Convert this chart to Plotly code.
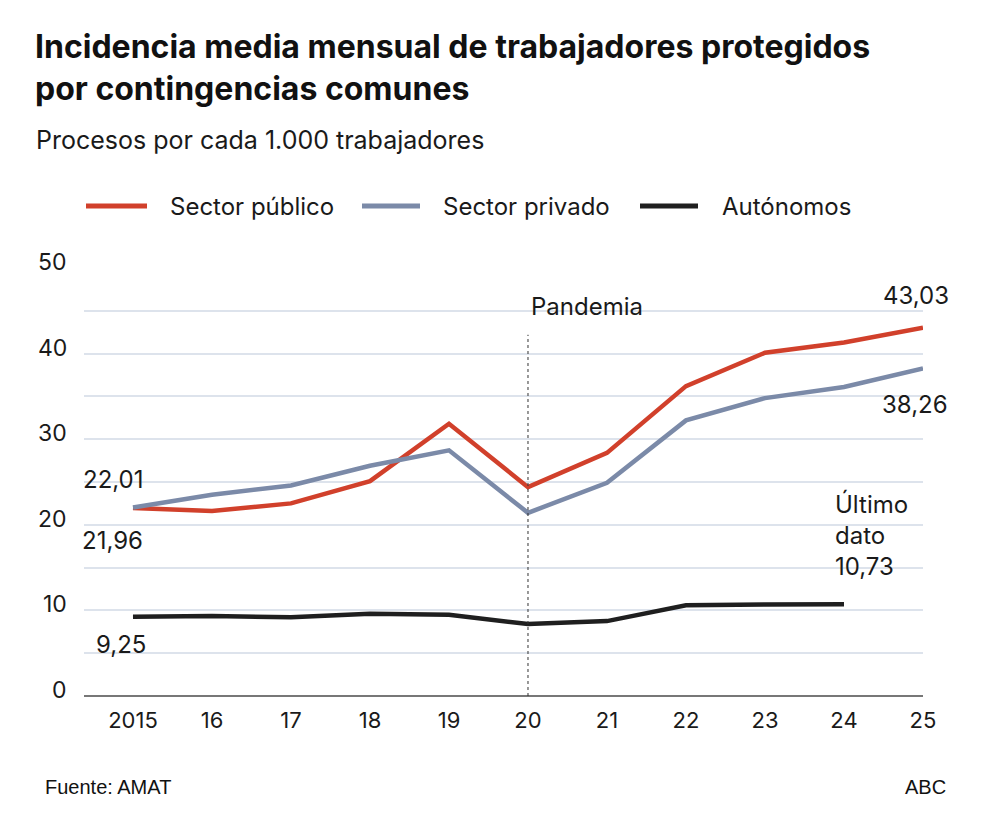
import plotly.graph_objects as go

years = [2015, 2016, 2017, 2018, 2019, 2020, 2021, 2022, 2023, 2024, 2025]
x_tick_labels = ["2015", "16", "17", "18", "19", "20", "21", "22", "23", "24", "25"]
publico = [21.96, 21.6, 22.5, 25.1, 31.8, 24.4, 28.4, 36.2, 40.1, 41.3, 43.03]
privado = [22.01, 23.5, 24.6, 26.9, 28.7, 21.4, 24.9, 32.2, 34.8, 36.1, 38.26]
autonomos_years = [2015, 2016, 2017, 2018, 2019, 2020, 2021, 2022, 2023, 2024]
autonomos = [9.25, 9.35, 9.2, 9.6, 9.5, 8.4, 8.75, 10.6, 10.7, 10.73]
y_ticks = [0, 10, 20, 30, 40, 50]
y_tick_labels = ["0", "10", "20", "30", "40", "50"]
pandemia_year = 2020
pandemia_line_top = 42.2

RED = "#d1402b"
BLUE = "#7b8aa8"
BLACK = "#1f1f1f"
FONT = "Inter, Roboto, sans-serif"
TXT = "#1a1a1a"

series = [
    ("Sector público", years, publico, RED),
    ("Sector privado", years, privado, BLUE),
    ("Autónomos", autonomos_years, autonomos, BLACK),
]

fig = go.Figure()
for name, xs, ys, col in series:
    fig.add_trace(go.Scatter(x=xs, y=ys, mode="lines", name=name,
                             line=dict(color=col, width=4.5), showlegend=False))

L, R, T, B = 84, 77, 268, 129
W, H = 1000, 825
pw, ph = W - L - R, H - T - B

def px(xp):
    return (xp - L) / pw

def py(yp):
    return (H - B - yp) / ph

fig.update_layout(
    width=W, height=H,
    margin=dict(l=L, r=R, t=T, b=B, autoexpand=False),
    paper_bgcolor="white", plot_bgcolor="white",
    font=dict(family=FONT, color=TXT, size=20),
    xaxis=dict(range=[2014.38, 2025.0], tickmode="array", tickvals=years, ticktext=x_tick_labels,
               showgrid=False, zeroline=False, showline=False, ticks="",
               tickfont=dict(size=22, color=TXT), ticklabelstandoff=9),
    yaxis=dict(range=[0, 50], tickmode="array", tickvals=y_ticks, showticklabels=False,
               showgrid=True, gridcolor="#dde3ec", gridwidth=1.5,
               minor=dict(dtick=5, showgrid=True, gridcolor="#dde3ec", gridwidth=1.5),
               zeroline=True, zerolinecolor="#777", zerolinewidth=1.5,
               showline=False, ticks=""),
)

# y tick labels sitting on their gridlines
for v, t in zip(y_ticks, y_tick_labels):
    fig.add_annotation(text=t, x=0, y=v, xref="paper", yref="y", showarrow=False,
                       xanchor="right", yanchor="bottom", xshift=-15, yshift=-10,
                       font=dict(size=23, color=TXT, family=FONT))

# manual legend
leg_samples = [(86, 147), (362, 420), (640, 698)]
leg_text_x = [168, 441, 720]
for (name, _, _, col), (a, b), tx in zip(series, leg_samples, leg_text_x):
    fig.add_shape(type="line", xref="paper", yref="paper", x0=px(a), x1=px(b),
                  y0=py(206), y1=py(206), line=dict(color=col, width=5))
    fig.add_annotation(text=name, xref="paper", yref="paper", x=px(tx), y=py(206),
                       xanchor="left", yanchor="middle", showarrow=False,
                       font=dict(size=24, color=TXT, family=FONT))

fig.add_shape(type="line", xref="x", yref="y", x0=pandemia_year, x1=pandemia_year,
              y0=0, y1=pandemia_line_top, line=dict(color="#333", width=1, dash="dot"))

ann_font = dict(size=24, color=TXT, family=FONT)
def lbl(text, x, y, xs, ys, xanchor="center", align="center"):
    fig.add_annotation(text=text, x=x, y=y, xref="x", yref="y", showarrow=False,
                       xshift=xs, yshift=ys, xanchor=xanchor, yanchor="middle",
                       align=align, font=ann_font)

lbl("22,01", years[0], privado[0], -20, 28)
lbl("21,96", years[0], publico[0], -20, -32)
lbl("9,25", autonomos_years[0], autonomos[0], -12, -28)
lbl("Pandemia", pandemia_year, pandemia_line_top, 59, 28)
lbl("43,03", years[-1], publico[-1], -7, 32)
lbl("38,26", years[-1], privado[-1], -8, -36)
fig.add_annotation(text="Último<br>dato<br>10,73", x=autonomos_years[-1], y=autonomos[-1],
                   xref="x", yref="y", showarrow=False, xshift=-11, yshift=69,
                   xanchor="left", yanchor="middle", align="left", font=ann_font)

fig.add_annotation(text="<b>Incidencia media mensual de trabajadores protegidos<br>por contingencias comunes</b>",
                   xref="paper", yref="paper", x=px(33), y=py(67), xanchor="left", yanchor="middle",
                   align="left", showarrow=False, font=dict(size=32, color="#111", family=FONT))
fig.add_annotation(text="Procesos por cada 1.000 trabajadores", xref="paper", yref="paper",
                   x=px(34), y=py(140), xanchor="left", yanchor="middle", showarrow=False,
                   font=dict(size=25, color=TXT, family=FONT))
foot = dict(size=20, color="#111", family="Liberation Sans Narrow, Liberation Sans, Arial")
fig.add_annotation(text="Fuente: AMAT", xref="paper", yref="paper", x=px(43), y=py(787),
                   xanchor="left", yanchor="middle", showarrow=False, font=foot)
fig.add_annotation(text="ABC", xref="paper", yref="paper", x=px(948), y=py(787),
                   xanchor="right", yanchor="middle", showarrow=False, font=foot)

fig.write_html("out.html")
